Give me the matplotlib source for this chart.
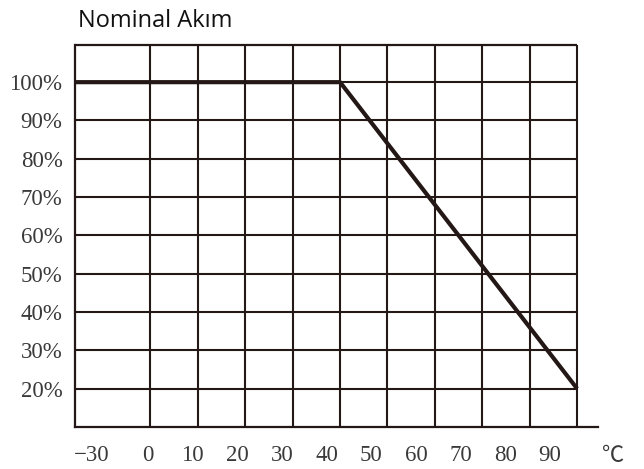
import matplotlib
matplotlib.use("Agg")
import matplotlib.pyplot as plt
import matplotlib.transforms as mtransforms
import numpy as np

# derating curve: nominal current (%) vs ambient temperature (C)
curve_temp = [-30, 40, 90]
curve_pct = [100, 100, 20]

grid_temp = [0, 10, 20, 30, 40, 50, 60, 70, 80, 90]
grid_pct = [20, 30, 40, 50, 60, 70, 80, 90, 100]

xtick_vals = [-30, 0, 10, 20, 30, 40, 50, 60, 70, 80, 90]
ytick_vals = [100, 90, 80, 70, 60, 50, 40, 30, 20]

title = "Nominal Akım"
unit = "℃"

ink = "#231815"
x_left, x_right = -15.9, 94.4
y_bot, y_top = 10, 109.7

fig = plt.figure(figsize=(6.44, 4.69), dpi=100)
ax = fig.add_axes([75 / 644, 1 - 427 / 469, 523 / 644, 382 / 469])
ax.set_xlim(x_left, x_right)
ax.set_ylim(y_bot, y_top)

# grid
ax.vlines(grid_temp, y_bot, y_top, color=ink, lw=1.5, clip_on=False, zorder=2)
ax.hlines(grid_pct, x_left, grid_temp[-1], color=ink, lw=1.5, zorder=2)
ax.hlines([y_top], x_left, grid_temp[-1], color=ink, lw=1.6, clip_on=False, zorder=2)

ax.plot(curve_temp, curve_pct, color=ink, lw=3.0, solid_capstyle="butt", zorder=3)

for s in ["top", "right"]:
    ax.spines[s].set_visible(False)
for s in ["left", "bottom"]:
    ax.spines[s].set_color(ink)
    ax.spines[s].set_linewidth(1.6)

# tick labels (the scan's labels drift a little left of the grid lines)
xpos = [x_left + 3.6 if v < 0 else v * 0.942 - 0.5 for v in xtick_vals]
ax.set_xticks(xpos)
ax.set_xticklabels([f"{v}".replace("-", "\u2212") for v in xtick_vals])
ax.set_yticks(ytick_vals)
ax.set_yticklabels([f"{v}%" for v in ytick_vals])
ax.tick_params(axis="both", length=0, labelsize=16.5, labelcolor="#3a3a3a")
ax.tick_params(axis="x", pad=13)
ax.tick_params(axis="y", pad=9)
for lab in ax.get_xticklabels() + ax.get_yticklabels():
    lab.set_family("Liberation Serif")

trans = mtransforms.blended_transform_factory(ax.transData, ax.transAxes)
ax.text(97.6, -35 / 382, unit, transform=trans, ha="center", va="baseline",
        fontsize=16, color="#3a3a3a", family=["Liberation Serif", "Noto Sans CJK SC"])

fig.text(78 / 644, 1 - 27 / 469, title, ha="left", va="baseline",
         fontsize=17, family="Open Sans", color="#111111")

fig.savefig("out.png", dpi=100)
